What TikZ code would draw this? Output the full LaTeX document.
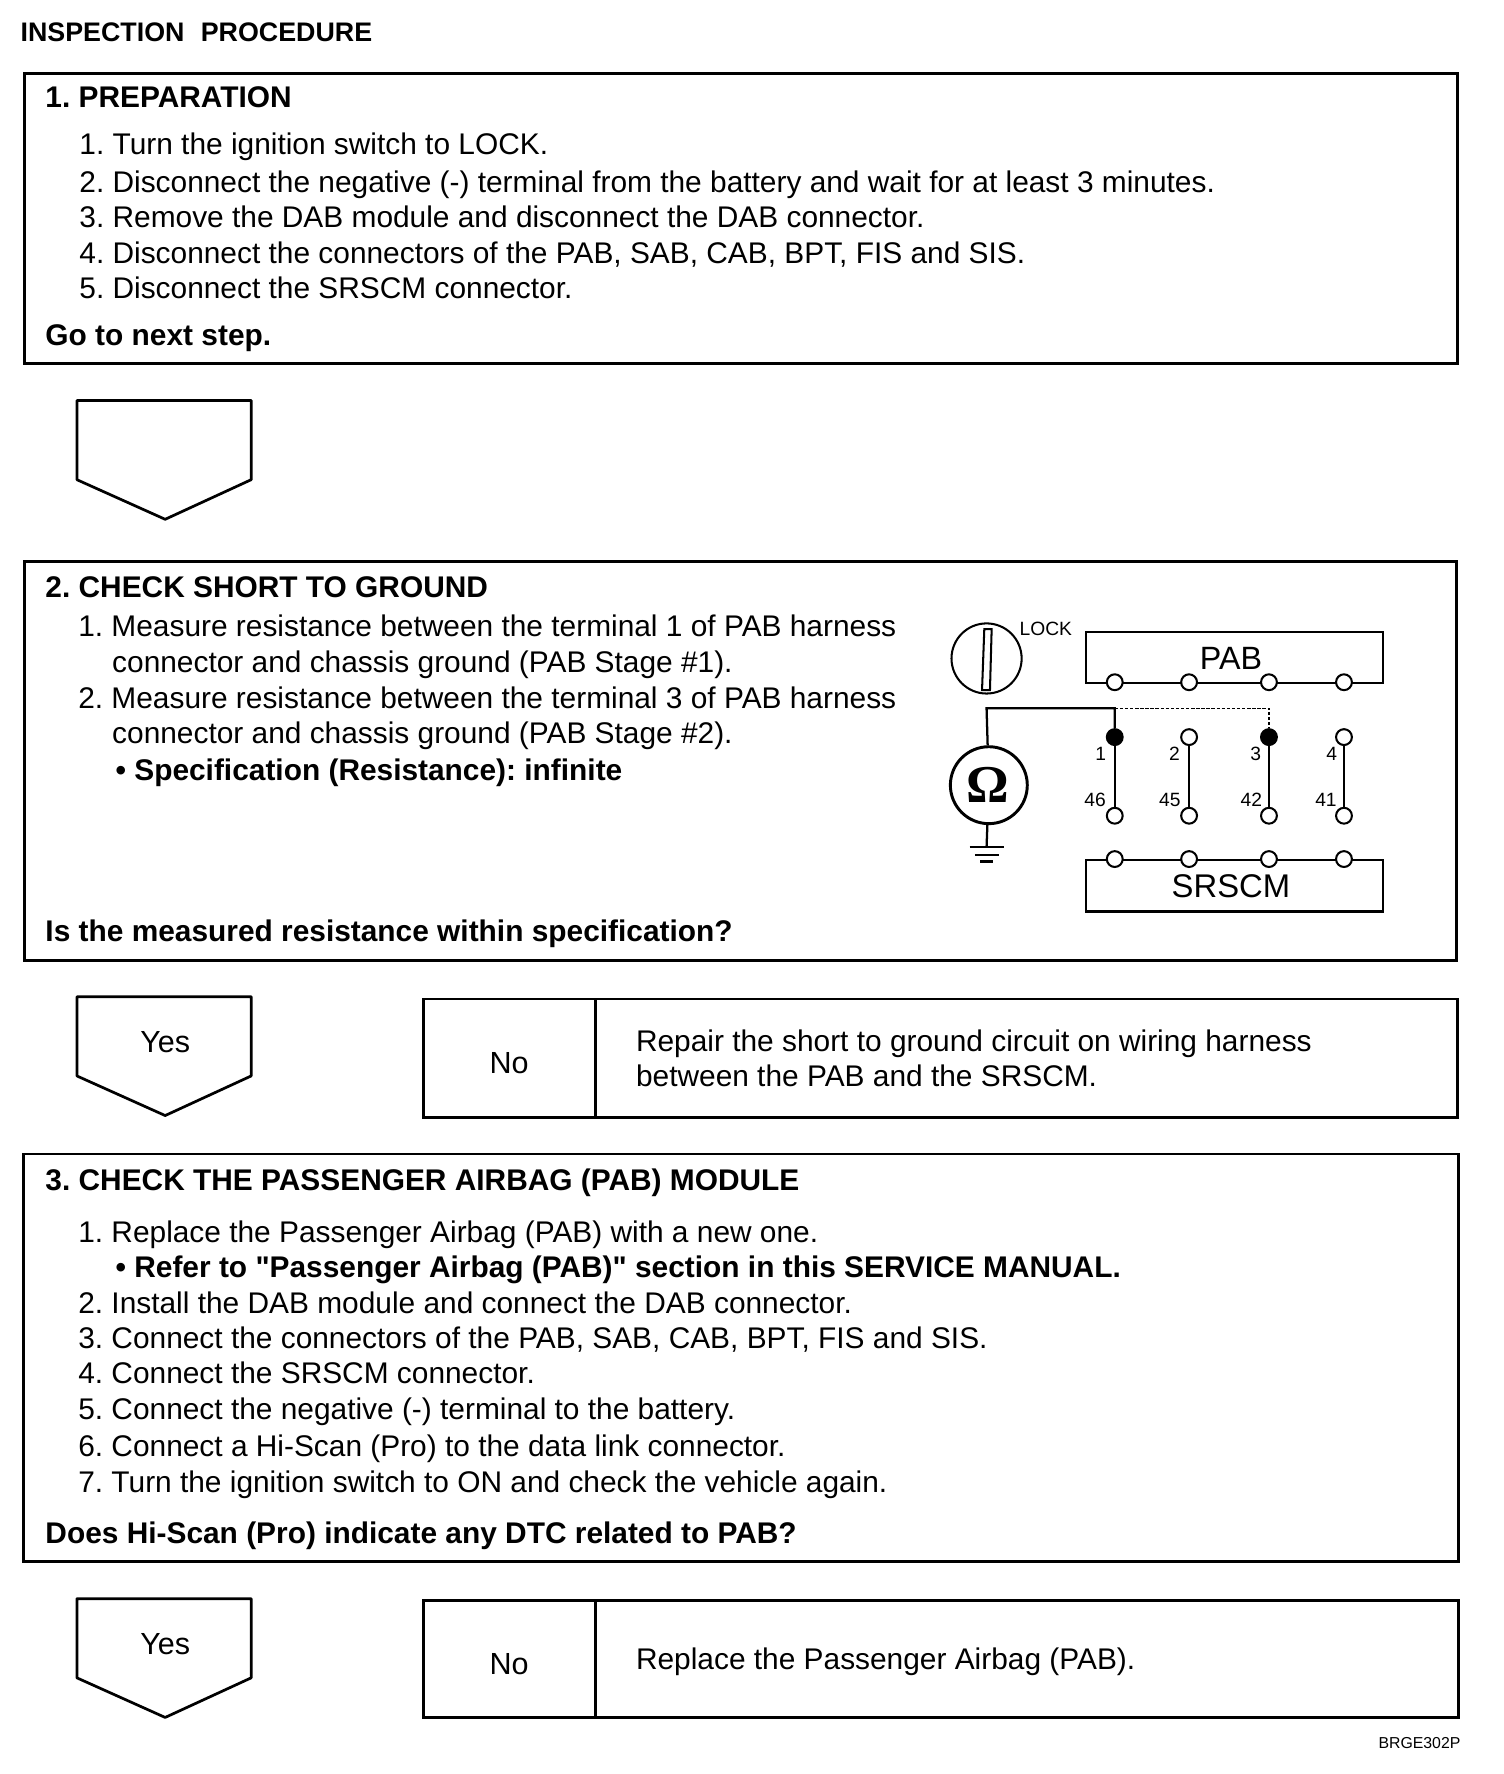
\documentclass[tikz,border=0pt]{standalone}
\usepackage{fontspec}
\setmainfont[Ligatures=TeXOff]{Liberation Sans}
\newfontfamily\omegafont{Liberation Serif}
\usetikzlibrary{positioning}
\frenchspacing

\tikzset{
  stepbox/.style={draw, line width=2.6pt, anchor=north west, inner sep=0pt, outer sep=0pt},
  txt/.style={anchor=base west, inner sep=0pt, font=\fontsize{26.4}{32}\selectfont},
  txtb/.style={txt, font=\fontsize{26.4}{32}\selectfont\bfseries},
  tagline/.style={draw, line width=2.4pt, line join=round},
  ctr/.style={anchor=center, inner sep=0pt, font=\fontsize{27}{32}\selectfont},
  pin/.style={circle, draw, line width=1.8pt, fill=white, minimum size=14pt, inner sep=0pt},
  wire/.style={line width=2pt},
  pinlbl/.style={anchor=center, inner sep=0pt, font=\fontsize{17}{20}\selectfont},
}

\begin{document}
\begin{tikzpicture}[x=1pt,y=-1pt]
\fill[white] (0,0) rectangle (1329,1568);
\useasboundingbox (0,0) rectangle (1329,1568);

\node[txtb, font=\fontsize{23.7}{30}\selectfont\bfseries] (title) at (18,37) {INSPECTION\,\, PROCEDURE};

% step 1
\node[stepbox, minimum width=1266pt, minimum height=256pt] (box1) at (22,65) {};
\node[txtb] (head1) at (40,95) {1. PREPARATION};
\foreach \i/\y/\t in {1/137/{1. Turn the ignition switch to LOCK.},
                      2/170/{2. Disconnect the negative (-) terminal from the battery and wait for at least 3 minutes.},
                      3/201/{3. Remove the DAB module and disconnect the DAB connector.},
                      4/233/{4. Disconnect the connectors of the PAB, SAB, CAB, BPT, FIS and SIS.},
                      5/264/{5. Disconnect the SRSCM connector.}}
  \node[txt] (prep\i) at (70,\y) {\t};
\node[txtb] (next1) at (40,305) {Go to next step.};

\draw[tagline] (68,354) -- (222,354) -- (222,424) -- (146,459) -- (68,424) -- cycle;

% step 2
\node[stepbox, minimum width=1265pt, minimum height=353pt] (box2) at (22,496) {};
\node[txtb] (head2) at (40,528) {2. CHECK SHORT TO GROUND};
\node[txt] (gnd1) at (69,563) {1. Measure resistance between the terminal 1 of PAB harness};
\node[txt] (gnd1b) at (99,594) {connector and chassis ground (PAB Stage \#1).};
\node[txt] (gnd2) at (69,626) {2. Measure resistance between the terminal 3 of PAB harness};
\node[txt] (gnd2b) at (99,657) {connector and chassis ground (PAB Stage \#2).};
\node[txtb] (spec) at (102,689.5) {• Specification (Resistance): infinite};
\node[txtb] (ask2) at (40,832.5) {Is the measured resistance within specification?};

% circuit
\node[circle, draw, line width=1.8pt, minimum size=62pt, inner sep=0pt] (key) at (872,582) {};
\draw[line width=1.8pt] (870,556) -- (876.5,556) -- (875,610) -- (868,610) -- cycle;
\node[anchor=west, inner sep=0pt, font=\fontsize{17}{20}\selectfont] (lock) at (901,556) {LOCK};
\node[draw, line width=2pt, anchor=north west, inner sep=0pt, minimum width=262.7pt, minimum height=45pt] (pab) at (958.8,557.6) {};
\node[ctr, font=\fontsize{28.5}{32}\selectfont] (pablbl) at (1088,581.7) {PAB};
\node[draw, line width=2pt, anchor=north west, inner sep=0pt, minimum width=262.7pt, minimum height=45.4pt] (srs) at (958.8,759.3) {};
\node[ctr, font=\fontsize{29}{32}\selectfont] (srslbl) at (1088,783.5) {SRSCM};

\node[circle, draw, line width=2.6pt, minimum size=68pt, inner sep=0pt] (ohm) at (874,694) {};
\node[anchor=center, inner sep=0pt, font=\omegafont\bfseries\fontsize{47}{50}\selectfont] (ohmlbl) at (873,694) {Ω};
\coordinate (corner) at (872,626);
\coordinate (split) at (985.3,626);
\coordinate (far) at (1121.6,626);
\coordinate (gnd) at (872,748.7);

\foreach \i/\x/\tp/\bt/\tl/\bl/\col in {
    1/985.3/1/46/973/968/black,
    2/1051/2/45/1038/1034/white,
    3/1121.6/3/42/1110/1106/black,
    4/1187.9/4/41/1177/1172/white}{
  \node[pin] (pa\i) at (\x,603) {};
  \node[pin, fill=\col] (up\i) at (\x,651.5) {};
  \node[pin] (dn\i) at (\x,721) {};
  \node[pin] (sr\i) at (\x,759.3) {};
  \draw[wire] (up\i) -- (dn\i);
  \node[pinlbl] (lu\i) at (\tl,666.6) {\tp};
  \node[pinlbl] (ld\i) at (\bl,707) {\bt};
}
\draw[wire] (ohm) -- (corner) -- (split) -- (up1);
\draw[line width=1.2pt, dash pattern=on 3pt off 1.5pt] (split) -- (far) -- (up3);
\draw[wire] (ohm) -- (gnd);
\draw[wire] (857,748.7) -- (887,748.7);
\draw[wire] (861.6,755.5) -- (883,755.5);
\draw[wire] (866.6,761.4) -- (878,761.4);

\draw[tagline] (68,881) -- (222,881) -- (222,951) -- (146,986) -- (68,951) -- cycle;
\node[ctr] (yes2) at (146,921) {Yes};
\node[stepbox, minimum width=914pt, minimum height=105pt] (nobox2) at (374,883) {};
\draw[line width=2.6pt] (526,883) -- (526,988);
\node[ctr] (no2) at (450,939.5) {No};
\node[txt] (fix2a) at (562,929) {Repair the short to ground circuit on wiring harness};
\node[txt] (fix2b) at (562,960.5) {between the PAB and the SRSCM.};

% step 3
\node[stepbox, minimum width=1268pt, minimum height=360pt] (box3) at (21,1020) {};
\node[txtb] (head3) at (40,1052) {3. CHECK THE PASSENGER AIRBAG (PAB) MODULE};
\node[txt] (pm1) at (69,1098) {1. Replace the Passenger Airbag (PAB) with a new one.};
\node[txtb] (ref) at (102,1129.5) {• Refer to "Passenger Airbag (PAB)" section in this SERVICE MANUAL.};
\foreach \i/\y/\t in {2/1161/{2. Install the DAB module and connect the DAB connector.},
                      3/1192/{3. Connect the connectors of the PAB, SAB, CAB, BPT, FIS and SIS.},
                      4/1223/{4. Connect the SRSCM connector.},
                      5/1255/{5. Connect the negative (-) terminal to the battery.},
                      6/1287/{6. Connect a Hi-Scan (Pro) to the data link connector.},
                      7/1319/{7. Turn the ignition switch to ON and check the vehicle again.}}
  \node[txt] (pm\i) at (69,\y) {\t};
\node[txtb] (ask3) at (40,1364.5) {Does Hi-Scan (Pro) indicate any DTC related to PAB?};

\draw[tagline] (68,1413) -- (222,1413) -- (222,1483) -- (146,1518) -- (68,1483) -- cycle;
\node[ctr] (yes3) at (146,1453) {Yes};
\node[stepbox, minimum width=915pt, minimum height=103pt] (nobox3) at (374,1415) {};
\draw[line width=2.6pt] (526,1415) -- (526,1518);
\node[ctr] (no3) at (450,1471) {No};
\node[txt] (fix3) at (562,1476) {Replace the Passenger Airbag (PAB).};

\node[anchor=east, inner sep=0pt, font=\fontsize{14}{16}\selectfont] (code) at (1291,1541) {BRGE302P};
\end{tikzpicture}
\end{document}
